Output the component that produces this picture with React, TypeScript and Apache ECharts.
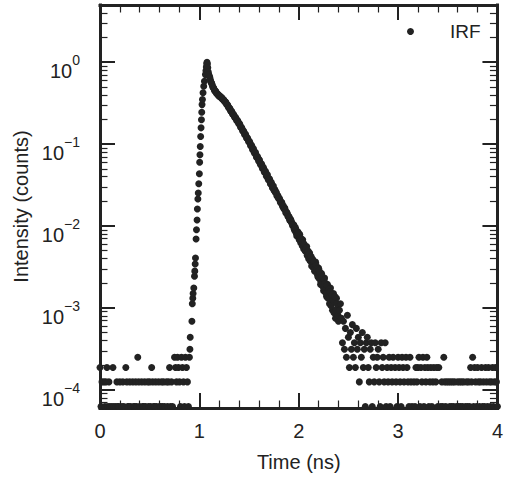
import React, { useEffect, useRef } from "react";
import * as echarts from "echarts";

// ---- data (photon counts per channel; 1.0 on the plot = PEAK_COUNTS) ----
const PEAK_COUNTS = 16000;
const CHANNEL_STEP = 0.01; // ns

// baseline before the rise: t = 0.00 ... 0.90 ns
const BASELINE_START = 0;
const BASELINE_COUNTS = [
  3, 1, 2, 0, 2, 1, 2, 3, 1, 2,
  1, 0, 1, 3, 1, 0, 1, 2, 1, 1,
  2, 0, 1, 2, 1, 0, 3, 2, 1, 1,
  2, 1, 0, 2, 1, 1, 2, 1, 4, 2,
  1, 0, 2, 1, 1, 2, 1, 0, 2, 1,
  2, 1, 3, 2, 1, 1, 2, 1, 0, 2,
  1, 1, 2, 1, 2, 1, 0, 2, 1, 2,
  3, 1, 2, 1, 0, 4, 3, 2, 4, 3,
  2, 1, 4, 3, 2, 1, 4, 3, 2, 1,
  4,
];

// rising edge and peak (read dot by dot)
const RISE_TIMES = [
  0.905, 0.908, 0.925, 0.929, 0.934, 0.937, 0.944, 0.951, 0.954, 0.958,
  0.961, 0.967, 0.971, 0.977, 0.98, 0.985, 0.989, 0.994, 1.0, 1.003,
  1.006, 1.009, 1.013, 1.017, 1.021, 1.024, 1.027, 1.031, 1.037, 1.044,
  1.051, 1.061, 1.066, 1.07, 1.074, 1.077, 1.081, 1.085,
];
const RISE_COUNTS = [
  5, 7, 11, 18, 21, 24, 28, 39, 45, 55,
  65, 111, 144, 190, 258, 342, 405, 526, 696, 960,
  1190, 1500, 1980, 2530, 3180, 3920, 4860, 5600, 6770, 8140,
  9380, 11300, 12600, 14000, 15300, 16000, 15200, 13700,
];

// decay, whole channels: t = 1.09 ... 2.40 ns
const DECAY_START = 1.09;
const DECAY_COUNTS = [
  12140, 10820, 9870, 9000, 8400, 7840, 7400, 7070, 6830, 6590,
  6370, 6220, 6080, 5940, 5740, 5610, 5420, 5240, 5060, 4830,
  4610, 4410, 4250, 4010, 3880, 3690, 3560, 3370, 3260, 3090,
  2990, 2830, 2720, 2550, 2460, 2300, 2230, 2080, 2010, 1880,
  1820, 1700, 1650, 1520, 1490, 1370, 1300, 1270, 1190, 1100,
  1080, 1030, 940, 900, 880, 800, 790, 720, 715, 650,
  610, 605, 580, 520, 515, 470,
  440, 445, 420, 375, 378, 345, 338, 305, 310, 276,
  262, 266, 232, 236, 212, 210, 188, 192, 176, 160,
  166, 141, 147, 121, 136, 118, 127, 100, 104, 109,
  84, 91, 78, 90, 71, 64, 75, 66, 52, 63,
  57, 45, 58, 44, 40, 49, 36, 31, 42, 35,
  26, 37, 30, 22, 31, 27, 18, 28, 23, 15,
  24, 19, 12, 21, 16, 11,
];

// decay, half channels: t = 1.095 ... 2.395 ns
const DECAY_HALF_START = 1.095;
const DECAY_HALF_COUNTS = [
  11300, 10500, 9300, 8800, 8000, 7700, 7150, 7050, 6620, 6560,
  6200, 6250, 5930, 5920, 5600, 5580, 5260, 5230, 4880, 4800,
  4450, 4380, 4060, 4020, 3720, 3690, 3400, 3370, 3110, 3100,
  2860, 2830, 2580, 2560, 2330, 2310, 2100, 2110, 1900, 1900,
  1720, 1720, 1540, 1550, 1380, 1400, 1240, 1260, 1110, 1130,
  1000, 1020, 900, 920, 805, 830, 725, 745, 650, 675,
  585, 605, 525, 545, 470, 492,
  430, 412, 408, 370, 352, 350, 315, 312, 286, 282,
  256, 250, 230, 226, 206, 204, 186, 182, 167, 165,
  146, 155, 131, 125, 133, 109, 116, 112, 92, 99,
  96, 80, 86, 70, 79, 73, 60, 68, 62, 50,
  59, 47, 53, 48, 38, 46, 43, 33, 39, 29,
  35, 32, 24, 30, 21, 27, 25, 17, 23, 20,
  14, 22, 15, 18, 13,
];

// tail and background: t = 2.41 ... 4.00 ns
const TAIL_START = 2.41;
const TAIL_COUNTS = [
  15, 18, 12, 6, 11, 5, 9, 4, 13, 7,
  3, 8, 5, 10, 4, 6, 3, 9, 5, 7,
  2, 6, 4, 8, 3, 5, 1, 6, 7, 3,
  2, 5, 6, 1, 4, 2, 6, 3, 4, 5,
  2, 1, 6, 3, 4, 2, 6, 1, 3, 2,
  4, 1, 3, 2, 4, 0, 3, 2, 1, 4,
  3, 2, 1, 4, 3, 2, 0, 4, 3, 2,
  1, 4, 2, 1, 0, 2, 1, 3, 2, 3,
  4, 1, 3, 2, 4, 1, 3, 2, 4, 3,
  1, 2, 3, 1, 2, 3, 0, 2, 3, 1,
  3, 0, 1, 2, 1, 4, 2, 1, 2, 0,
  2, 1, 2, 1, 2, 1, 2, 0, 1, 2,
  1, 2, 1, 2, 1, 2, 0, 1, 2, 1,
  2, 1, 3, 2, 4, 1, 3, 2, 1, 3,
  2, 1, 2, 3, 1, 2, 1, 3, 2, 1,
  3, 2, 1, 2, 3, 1, 2, 3, 2, 1,
];

// ---- axes ----
const X_MIN = 0;
const X_MAX = 4;
const X_INTERVAL = 1;
const Y_MIN = 6e-5;
const Y_MAX = 5;
const Y_EXPONENTS = [-4, -3, -2, -1, 0];
const MINOR_MULTIPLIERS = [2, 3, 4, 5, 6, 7, 8, 9];
const SERIES_NAME = "IRF";
const X_NAME = "Time (ns)";
const Y_NAME = "Intensity (counts)";

const INK = "#222222";
const FONT = '"Liberation Sans", Arial, Helvetica, sans-serif';

function buildPoints(): [number, number][] {
  const pts: [number, number][] = [];
  const pushUniform = (start: number, counts: number[]) => {
    counts.forEach((c, i) => {
      if (c > 0) pts.push([+(start + i * CHANNEL_STEP).toFixed(3), c / PEAK_COUNTS]);
    });
  };
  pushUniform(BASELINE_START, BASELINE_COUNTS);
  RISE_TIMES.forEach((t, i) => pts.push([t, RISE_COUNTS[i] / PEAK_COUNTS]));
  pushUniform(DECAY_START, DECAY_COUNTS);
  pushUniform(DECAY_HALF_START, DECAY_HALF_COUNTS);
  pushUniform(TAIL_START, TAIL_COUNTS);
  return pts;
}

export default function App() {
  const ref = useRef<HTMLDivElement>(null);

  useEffect(() => {
    document.body.style.margin = "0";
    if (!ref.current) return;
    const chart = echarts.init(ref.current, undefined, { renderer: "svg" });

    const lmin = Math.log10(Y_MIN);
    const lmax = Math.log10(Y_MAX);
    const minorL: number[] = [];
    for (let e = -5; e <= 0; e++) {
      for (const m of MINOR_MULTIPLIERS) {
        const v = e + Math.log10(m);
        if (v > lmin && v < lmax) minorL.push(v);
      }
    }

    const lineStyle = { color: INK, width: 3, cap: "square" };

    const helperY = (position: string, major: boolean, withLabels: boolean): any => ({
      type: "value",
      position,
      min: lmin,
      max: lmax,
      axisLine: { show: major, onZero: false, lineStyle },
      axisTick: {
        show: true,
        inside: true,
        length: major ? 15 : 7.5,
        customValues: major ? Y_EXPONENTS : minorL,
        lineStyle: { color: INK, width: major ? 2 : 1.2 },
      },
      axisLabel: withLabels
        ? {
            show: true,
            customValues: Y_EXPONENTS,
            margin: 20,
            padding: [10, 0, 0, 0],
            formatter: (v: number) => {
              const e = Math.round(v);
              const s = e < 0 ? "\u2212" + -e : String(e);
              return `{b|10}{s|${s}}`;
            },
            rich: {
              b: { fontSize: 20, lineHeight: 28, color: INK, fontFamily: FONT, verticalAlign: "bottom" },
              s: { fontSize: 14, lineHeight: 10, color: INK, fontFamily: FONT, verticalAlign: "top" },
            },
          }
        : { show: false },
      splitLine: { show: false },
      ...(withLabels
        ? {
            name: Y_NAME,
            nameLocation: "middle",
            nameGap: 68,
            nameTextStyle: { fontSize: 20, color: INK, fontFamily: FONT },
          }
        : {}),
    });

    const xAxisBase = (position: string, withLabels: boolean): any => ({
      type: "value",
      position,
      min: X_MIN,
      max: X_MAX,
      interval: X_INTERVAL,
      axisLine: { show: true, onZero: false, lineStyle },
      axisTick: { show: true, inside: true, length: 15, lineStyle: { color: INK, width: 2 } },
      minorTick: { show: true, splitNumber: 5, length: 7.5, lineStyle: { color: INK, width: 1.2 } },
      axisLabel: withLabels
        ? { show: true, fontSize: 20, color: INK, fontFamily: FONT, margin: 13 }
        : { show: false },
      splitLine: { show: false },
      minorSplitLine: { show: false },
      ...(withLabels
        ? {
            name: X_NAME,
            nameLocation: "middle",
            nameGap: 44,
            nameTextStyle: { fontSize: 20, color: INK, fontFamily: FONT },
          }
        : {}),
    });

    const option: any = {
      animation: false,
      backgroundColor: "#ffffff",
      textStyle: { fontFamily: FONT },
      grid: { left: 100, right: 4, top: 5, bottom: 71, containLabel: false },
      legend: {
        data: [SERIES_NAME],
        left: 407,
        top: 22,
        padding: 0,
        icon: "circle",
        itemWidth: 7,
        itemHeight: 7,
        textStyle: { fontSize: 19, color: INK, fontFamily: FONT, padding: [0, 0, 0, 31] },
      },
      xAxis: [xAxisBase("bottom", true), xAxisBase("top", false)],
      yAxis: [
        {
          type: "log",
          logBase: 10,
          min: Y_MIN,
          max: Y_MAX,
          show: false,
          position: "left",
          axisLine: { onZero: false },
        },
        helperY("left", true, true),
        helperY("left", false, false),
        helperY("right", true, false),
        helperY("right", false, false),
      ],
      series: [
        {
          name: SERIES_NAME,
          type: "scatter",
          xAxisIndex: 0,
          yAxisIndex: 0,
          symbol: "circle",
          symbolSize: 7,
          itemStyle: { color: INK, opacity: 1 },
          data: buildPoints(),
        },
      ],
    };

    chart.setOption(option);
    return () => chart.dispose();
  }, []);

  return <div ref={ref} style={{ width: 506, height: 479 }} />;
}
